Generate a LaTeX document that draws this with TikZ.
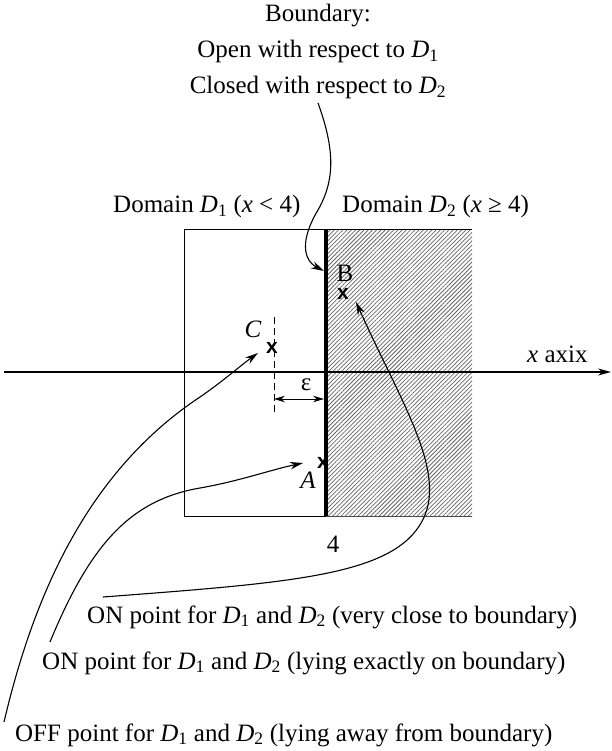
\documentclass[tikz,border=0pt]{standalone}
\usepackage{fontspec}
\setmainfont{Liberation Serif}
\newfontfamily\marksf{Liberation Sans}
\usetikzlibrary{arrows.meta,patterns.meta}
\newcommand\Dm[1]{\textit{D}\textsubscript{#1}}
\begin{document}
\begin{tikzpicture}[x=1pt,y=-1pt,
  txt/.style={inner sep=0pt,font=\fontsize{25}{30}\selectfont},
  xmark/.style={inner sep=0pt,font=\marksf\bfseries\fontsize{21}{24}\selectfont},
  thinline/.style={line width=0.9pt},
  pointer/.style={line width=1.1pt,-{Stealth[length=13pt,width=7.5pt]}},
  dimarrow/.style={line width=0.9pt,{Stealth[length=11pt,width=6.5pt]}-{Stealth[length=11pt,width=6.5pt]}},
]
\useasboundingbox (0,0) rectangle (611,751);

% domains
\fill[pattern={Lines[angle=45,distance=3pt,line width=0.75pt]},pattern color=black!60] (326,229) rectangle (472,516);
\draw[thinline] (184,229) rectangle (326,516);
\draw[thinline] (326,229) -- (472,229);
\draw[line width=0.6pt,black!70] (326,516) -- (472,516);

% x axis
\coordinate (axL) at (4,372);
\coordinate (axR) at (611,372);
\draw[line width=1.1pt,-{Stealth[length=13pt,width=7pt]}] (axL) -- (axR);

% boundary
\draw[line width=4pt] (326,229) -- (326,516);

% dashed line and epsilon
\coordinate (dashT) at (274,317);
\coordinate (dashB) at (274,412);
\draw[thinline,dash pattern=on 7pt off 4pt] (dashT) -- (dashB);
\coordinate (epsL) at (274,399);
\coordinate (epsR) at (324,399);
\draw[dimarrow] (epsL) -- (epsR);
\node[txt] (eps) at (306,385) {ε};

% points
\node[xmark] (xC) at (272,348) {x};
\node[xmark] (xB) at (343,294) {x};
\node[xmark] (xA) at (323,463) {x};
\node[txt] (labC) at (253,329) {\textit{C}};
\node[txt] (labB) at (345,273) {B};
\node[txt] (labA) at (308,480) {\textit{A}};

% texts
\node[txt,anchor=base] (bnd1) at (318,22) {Boundary:};
\node[txt,anchor=base] (bnd2) at (318,58) {Open with respect to \Dm{1}};
\node[txt,anchor=base] (bnd3) at (318,94) {Closed with respect to \Dm{2}};
\node[txt,anchor=base west] (dom1) at (113,213) {Domain \Dm{1} (\textit{x} < 4)};
\node[txt,anchor=base west] (dom2) at (342,213) {Domain \Dm{2} (\textit{x} ≥ 4)};
\node[txt,anchor=base west] (xaxis) at (527,362) {\textit{x} axix};
\node[txt,anchor=base] (four) at (333,552) {4};
\node[txt,anchor=base west] (onB) at (87,623) {ON point for \Dm{1} and \Dm{2} (very close to boundary)};
\node[txt,anchor=base west] (onA) at (42,669) {ON point for \Dm{1} and \Dm{2} (lying exactly on boundary)};
\node[txt,anchor=base west] (offC) at (15,741) {OFF point for \Dm{1} and \Dm{2} (lying away from boundary)};

% pointer curves
\coordinate (bndS) at (318,103);
\coordinate (bndT) at (324,271);
\draw[pointer] (bndS) .. controls (335,150) and (335,180) .. (318,210) .. controls (300,240) and (303,260) .. (bndT);

\coordinate (bS) at (103,597);
\coordinate (bT) at (356,302);
\draw[pointer] (bS) .. controls (300,582) and (400,575) .. (425,515) .. controls (444,467) and (400,400) .. (bT);

\coordinate (aS) at (50,642);
\coordinate (aT) at (303,463);
\draw[pointer] (aS) .. controls (90,545) and (130,500) .. (200,488) .. controls (240,481) and (270,470) .. (aT);

\coordinate (cS) at (4,722);
\coordinate (cT) at (258,353);
\draw[pointer] (cS) .. controls (35,590) and (90,470) .. (200,397) .. controls (222,382) and (240,366) .. (cT);
\end{tikzpicture}
\end{document}
